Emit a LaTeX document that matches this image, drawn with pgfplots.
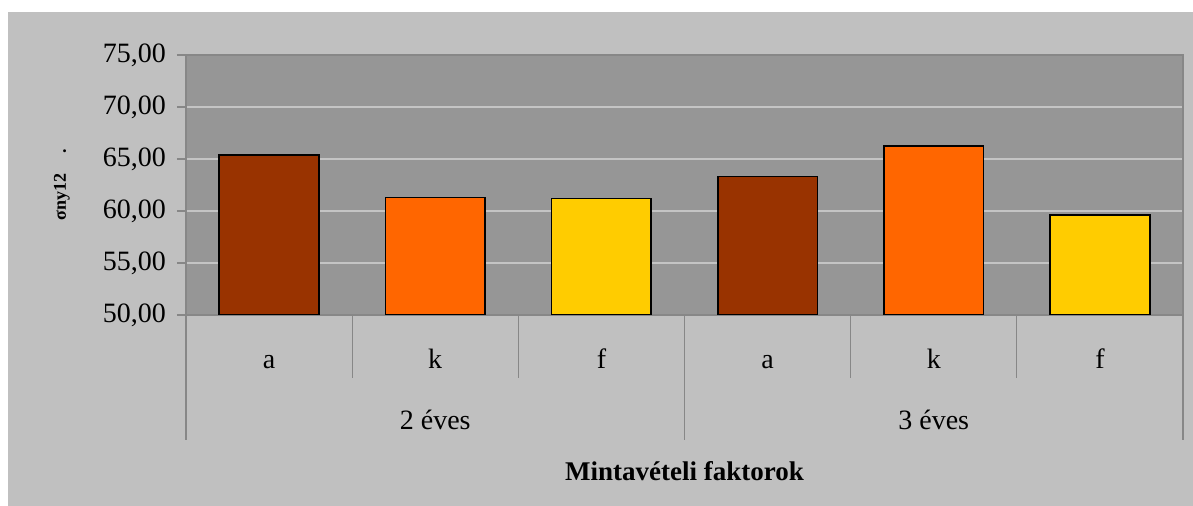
\documentclass[border=0pt]{standalone}
\usepackage{pgfplots}
\pgfplotsset{compat=1.18}
\usepackage{fontspec}
\setmainfont{Liberation Serif}
\definecolor{outerbg}{HTML}{C0C0C0}
\definecolor{plotbg}{HTML}{969696}
\definecolor{barA}{HTML}{993300}
\definecolor{barB}{HTML}{FF6600}
\definecolor{barC}{HTML}{FFCC00}
\definecolor{gridc}{HTML}{C4C4C4}
\definecolor{axc}{HTML}{878787}
\tikzset{
  sep/.style={axc, line width=0.6pt},
  lab/.style={font=\fontsize{14}{16}\selectfont, anchor=base, inner sep=0pt},
}
\begin{document}
\begin{tikzpicture}[x=1pt,y=1pt]
\fill[white] (-93,-95.5) rectangle (503.5,157.5);
\fill[outerbg] (-89,-95.5) rectangle (503.5,151.5);
\path[use as bounding box] (-93,-95.5) rectangle (503.5,157.5);
\begin{axis}[
  at={(0,0)}, anchor=south west,
  scale only axis, width=498.5pt, height=130pt,
  xmin=-0.5, xmax=5.5, ymin=50, ymax=75,
  clip mode=individual,
  axis background/.style={fill=plotbg},
  axis line style={axc, line width=0.7pt},
  ytick={50,55,...,75},
  ytick pos=left,
  xtick=\empty,
  ymajorgrids, grid style={gridc, line width=0.6pt},
  tick align=outside, major tick length=4.5pt,
  tick style={axc, line width=0.6pt},
  yticklabel style={font=\fontsize{14}{16}\selectfont, xshift=-2pt,
    /pgf/number format/fixed, /pgf/number format/fixed zerofill,
    /pgf/number format/precision=2, /pgf/number format/use comma,
    /pgf/number format/assume math mode=true},
]
\addplot[ybar, bar width=0.6, bar shift=0pt, fill=barA, draw=black, line width=0.8pt] coordinates {(0,65.4) (3,63.3)};
\addplot[ybar, bar width=0.6, bar shift=0pt, fill=barB, draw=black, line width=0.8pt] coordinates {(1,61.3) (4,66.25)};
\addplot[ybar, bar width=0.6, bar shift=0pt, fill=barC, draw=black, line width=0.8pt] coordinates {(2,61.2) (5,59.6)};
% category separators
\draw[sep] (axis cs:0.5,50) -- ++(0pt,-31.5pt);
\draw[sep] (axis cs:1.5,50) -- ++(0pt,-31.5pt);
\draw[sep] (axis cs:3.5,50) -- ++(0pt,-31.5pt);
\draw[sep] (axis cs:4.5,50) -- ++(0pt,-31.5pt);
\draw[sep] (axis cs:-0.5,50) -- ++(0pt,-62.5pt);
\draw[sep] (axis cs:2.5,50) -- ++(0pt,-62.5pt);
\draw[sep] (axis cs:5.5,50) -- ++(0pt,-62.5pt);
\node[lab, yshift=-27pt] at (axis cs:0,50) {a};
\node[lab, yshift=-27pt] at (axis cs:1,50) {k};
\node[lab, yshift=-27pt] at (axis cs:2,50) {f};
\node[lab, yshift=-27pt] at (axis cs:3,50) {a};
\node[lab, yshift=-27pt] at (axis cs:4,50) {k};
\node[lab, yshift=-27pt] at (axis cs:5,50) {f};
\node[lab, yshift=-57.5pt] at (axis cs:1,50) {2 éves};
\node[lab, yshift=-57.5pt] at (axis cs:4,50) {3 éves};
\node[lab, font=\bfseries\fontsize{13.5}{15}\selectfont, yshift=-83pt] at (axis cs:2.5,50) {Mintavételi faktorok};
\node[rotate=89.9, anchor=center, inner sep=0pt, font=\bfseries\fontsize{9}{10}\selectfont] at (axis description cs:-0.1245,0.5) {σny12\hspace{10pt}.};
\end{axis}
\end{tikzpicture}
\end{document}
